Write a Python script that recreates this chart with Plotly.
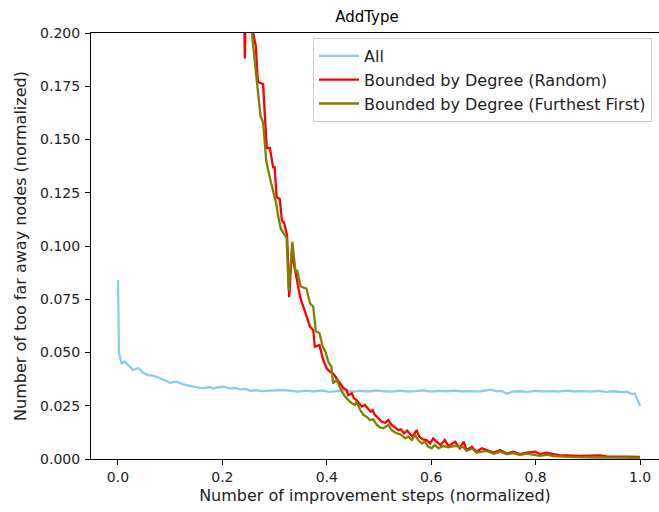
import plotly.graph_objects as go

# ---- data ----
all_x = [0.000, 0.002, 0.007, 0.013, 0.020, 0.029, 0.039, 0.048, 0.058, 0.066,
         0.074, 0.088, 0.100, 0.112, 0.125, 0.138, 0.150, 0.163, 0.175, 0.182,
         0.190, 0.202, 0.215, 0.225, 0.234, 0.245, 0.253, 0.265, 0.275, 0.285,
         0.300, 0.317, 0.330, 0.345, 0.360, 0.375, 0.390, 0.405, 0.420, 0.435,
         0.450, 0.465, 0.480, 0.495, 0.510, 0.525, 0.540, 0.555, 0.570, 0.585,
         0.600, 0.615, 0.630, 0.645, 0.660, 0.675, 0.690, 0.705, 0.715, 0.725,
         0.735, 0.745, 0.755, 0.770, 0.785, 0.800, 0.815, 0.830, 0.845, 0.860,
         0.875, 0.890, 0.905, 0.920, 0.935, 0.950, 0.965, 0.975, 0.984, 0.990,
         1.000]
all_y = [0.0840, 0.0496, 0.0449, 0.0457, 0.0440, 0.0418, 0.0426, 0.0405, 0.0394, 0.0392,
         0.0386, 0.0372, 0.0358, 0.0363, 0.0350, 0.0343, 0.0336, 0.0332, 0.0338, 0.0331,
         0.0336, 0.0340, 0.0331, 0.0334, 0.0327, 0.0329, 0.0320, 0.0323, 0.0319, 0.0319,
         0.0322, 0.0324, 0.0320, 0.0316, 0.0321, 0.0317, 0.0322, 0.0315, 0.0319, 0.0323,
         0.0316, 0.0320, 0.0317, 0.0322, 0.0318, 0.0316, 0.0321, 0.0317, 0.0319, 0.0322,
         0.0316, 0.0320, 0.0318, 0.0321, 0.0317, 0.0319, 0.0316, 0.0322, 0.0326, 0.0318,
         0.0320, 0.0306, 0.0316, 0.0318, 0.0315, 0.0320, 0.0317, 0.0319, 0.0316, 0.0321,
         0.0317, 0.0319, 0.0316, 0.0320, 0.0315, 0.0318, 0.0314, 0.0316, 0.0305, 0.0307,
         0.0250]

rand_x = [0.240, 0.243, 0.246, 0.259, 0.264, 0.268, 0.278, 0.281, 0.285, 0.291,
          0.297, 0.300, 0.304, 0.310, 0.314, 0.318, 0.324, 0.328, 0.333, 0.339,
          0.349, 0.355, 0.368, 0.374, 0.377, 0.386, 0.393, 0.400, 0.406, 0.412,
          0.419, 0.424, 0.432, 0.438, 0.441, 0.448, 0.452, 0.457, 0.467, 0.473,
          0.480, 0.484, 0.488, 0.492, 0.499, 0.505, 0.512, 0.518, 0.524, 0.531,
          0.537, 0.542, 0.548, 0.554, 0.559, 0.564, 0.572, 0.577, 0.584, 0.591,
          0.598, 0.604, 0.610, 0.618, 0.626, 0.633, 0.646, 0.655, 0.662, 0.668,
          0.678, 0.687, 0.697, 0.706, 0.720, 0.732, 0.745, 0.757, 0.770, 0.783,
          0.799, 0.808, 0.821, 0.834, 0.847, 0.860, 0.885, 0.923, 0.936, 0.974,
          1.000]
rand_y = [0.230, 0.188, 0.230, 0.200, 0.194, 0.177, 0.176, 0.160, 0.146, 0.146,
          0.137, 0.137, 0.123, 0.122, 0.112, 0.111, 0.105, 0.076, 0.097, 0.089,
          0.076, 0.0715, 0.062, 0.0606, 0.0527, 0.0535, 0.0465, 0.0425, 0.0410, 0.0402,
          0.0379, 0.0363, 0.0332, 0.0324, 0.0300, 0.0308, 0.0285, 0.0277, 0.0246, 0.0254,
          0.0230, 0.0222, 0.0230, 0.0207, 0.0191, 0.0175, 0.0170, 0.0183, 0.0160, 0.0148,
          0.0136, 0.0139, 0.0120, 0.0133, 0.0120, 0.0105, 0.0136, 0.0105, 0.0092, 0.0089,
          0.0073, 0.0097, 0.0081, 0.0066, 0.0089, 0.0061, 0.0081, 0.0050, 0.0081, 0.0042,
          0.0058, 0.0034, 0.0050, 0.0042, 0.0030, 0.0042, 0.0026, 0.0034, 0.0023, 0.0030,
          0.0034, 0.0023, 0.0030, 0.0023, 0.0018, 0.0017, 0.0014, 0.0017, 0.0012, 0.0011,
          0.0010]

far_x = [0.250, 0.268, 0.273, 0.278, 0.284, 0.291, 0.297, 0.303, 0.307, 0.312,
         0.320, 0.323, 0.327, 0.334, 0.340, 0.343, 0.350, 0.361, 0.368, 0.374,
         0.379, 0.386, 0.392, 0.398, 0.403, 0.409, 0.412, 0.419, 0.429, 0.435,
         0.441, 0.448, 0.454, 0.457, 0.464, 0.470, 0.476, 0.483, 0.489, 0.496,
         0.502, 0.508, 0.518, 0.524, 0.531, 0.537, 0.543, 0.550, 0.556, 0.563,
         0.569, 0.575, 0.582, 0.588, 0.594, 0.601, 0.607, 0.614, 0.623, 0.633,
         0.646, 0.662, 0.668, 0.678, 0.687, 0.706, 0.720, 0.732, 0.745, 0.757,
         0.770, 0.783, 0.799, 0.808, 0.821, 0.834, 0.860, 0.885, 0.923, 0.960,
         1.000]
far_y = [0.215, 0.172, 0.161, 0.158, 0.140, 0.132, 0.126, 0.120, 0.114, 0.108,
         0.105, 0.104, 0.079, 0.102, 0.088, 0.0887, 0.081, 0.080, 0.073, 0.0715,
         0.060, 0.059, 0.053, 0.050, 0.0455, 0.0433, 0.0355, 0.0371, 0.0316, 0.0293,
         0.0277, 0.0261, 0.0254, 0.0269, 0.0230, 0.0207, 0.0199, 0.0183, 0.0186, 0.0160,
         0.0148, 0.0144, 0.0160, 0.0136, 0.0124, 0.0117, 0.0113, 0.0097, 0.0105, 0.0089,
         0.0113, 0.0089, 0.0073, 0.0081, 0.0058, 0.0050, 0.0066, 0.0050, 0.0061, 0.0055,
         0.0062, 0.0055, 0.0038, 0.0050, 0.0030, 0.0038, 0.0025, 0.0035, 0.0022, 0.0028,
         0.0018, 0.0025, 0.0020, 0.0015, 0.0020, 0.0013, 0.0010, 0.0008, 0.0007, 0.0006,
         0.0005]

names = ["All", "Bounded by Degree (Random)", "Bounded by Degree (Furthest First)"]
colors = ["#87CEEB", "#FF0000", "#808000"]
x_ticks = [0.0, 0.2, 0.4, 0.6, 0.8, 1.0]
y_ticks = [0.0, 0.025, 0.05, 0.075, 0.1, 0.125, 0.15, 0.175, 0.2]

FONT = "DejaVu Sans"
TXT = "#222"

fig = go.Figure()
for i, (xs, ys) in enumerate([(all_x, all_y), (rand_x, rand_y), (far_x, far_y)]):
    fig.add_trace(go.Scatter(x=xs, y=ys, mode="lines", name=names[i],
                             legendgroup=f"g{i}",
                             line=dict(color=colors[i], width=2.3)))

axis_common = dict(showline=True, linecolor="black", linewidth=1,
                   ticks="outside", ticklen=5, tickwidth=1, tickcolor="black",
                   showgrid=False, zeroline=False,
                   tickfont=dict(family=FONT, size=14, color=TXT))

fig.update_layout(
    width=659, height=512,
    margin=dict(l=91, r=0, t=33, b=53),
    paper_bgcolor="white", plot_bgcolor="white",
    font=dict(family=FONT, size=14, color=TXT),
    title=dict(text="AddType", x=367/659, xref="container", xanchor="center",
               y=1-17/512, yref="container", yanchor="middle",
               font=dict(family=FONT, size=15, color="black")),
    xaxis=dict(range=[-0.0517, 1.0364], tickvals=x_ticks, tickformat=".1f",
               mirror=True,
               title=dict(text="Number of improvement steps (normalized)",
                          font=dict(family=FONT, size=16, color=TXT), standoff=6),
               **axis_common),
    yaxis=dict(range=[0, 0.2], tickvals=y_ticks, tickformat=".3f",
               mirror=False, ticklabelstandoff=2,
               title=dict(text="Number of too far away nodes (normalized)",
                          font=dict(family=FONT, size=16, color=TXT), standoff=9),
               **axis_common),
    legend=dict(x=(313-91)/568, y=1-(38-33)/426, xanchor="left", yanchor="top",
                bgcolor="rgba(255,255,255,0.8)", bordercolor="#cccccc", borderwidth=1,
                font=dict(family=FONT, size=16, color=TXT),
                tracegroupgap=0, itemwidth=40),
    showlegend=True,
)

fig.write_html("out.html")
